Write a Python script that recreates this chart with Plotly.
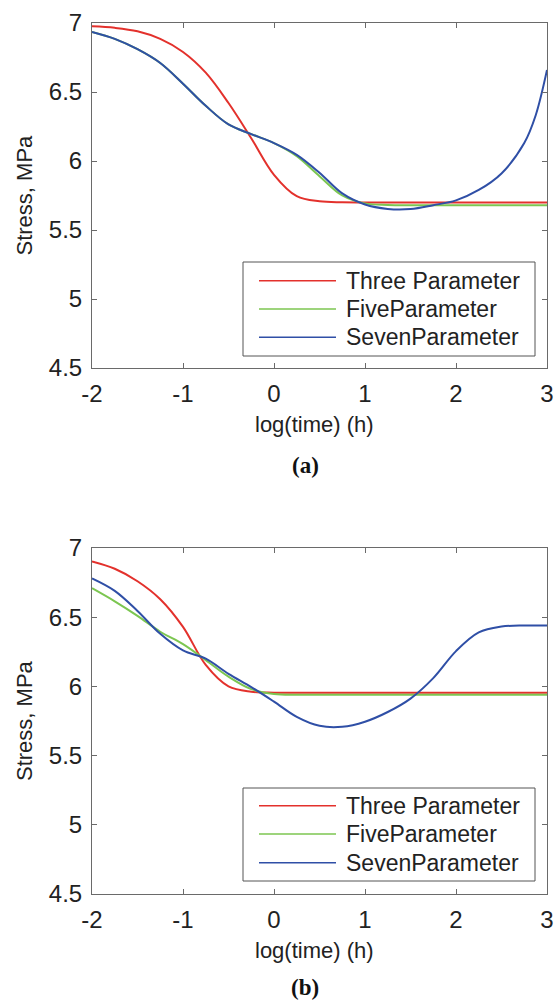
import plotly.graph_objects as go

W, H = 556, 1003

# ---------------- data: panel (a) ----------------
a_three_x = [-2.0, -1.75, -1.5, -1.25, -1.0, -0.75, -0.5, -0.25, 0.0, 0.25, 0.5, 0.75, 1.0, 1.5, 2.0, 2.5, 3.0]
a_three_y = [6.976, 6.965, 6.94, 6.885, 6.79, 6.64, 6.42, 6.165, 5.90, 5.745, 5.708, 5.701, 5.70, 5.70, 5.70, 5.70, 5.70]

a_five_x = [-2.0, -1.75, -1.5, -1.25, -1.0, -0.75, -0.5, -0.25, 0.0, 0.25, 0.5, 0.75, 1.0, 1.25, 1.5, 2.0, 2.5, 3.0]
a_five_y = [6.935, 6.885, 6.81, 6.71, 6.56, 6.40, 6.265, 6.195, 6.13, 6.035, 5.89, 5.75, 5.693, 5.682, 5.68, 5.68, 5.68, 5.68]

a_seven_x = [-2.0, -1.75, -1.5, -1.25, -1.0, -0.75, -0.5, -0.25, 0.0, 0.25, 0.5, 0.75, 1.0, 1.25, 1.5,
             1.75, 2.0, 2.25, 2.5, 2.75, 2.875, 3.0]
a_seven_y = [6.935, 6.885, 6.81, 6.71, 6.56, 6.40, 6.265, 6.195, 6.13, 6.045, 5.915, 5.765, 5.685, 5.653, 5.652,
             5.68, 5.715, 5.79, 5.91, 6.13, 6.33, 6.66]

# ---------------- data: panel (b) ----------------
b_three_x = [-2.0, -1.75, -1.5, -1.25, -1.0, -0.75, -0.5, -0.25, 0.0, 0.5, 1.0, 2.0, 3.0]
b_three_y = [6.903, 6.85, 6.76, 6.63, 6.43, 6.155, 6.0, 5.962, 5.955, 5.955, 5.955, 5.955, 5.955]

b_five_x = [-2.0, -1.75, -1.5, -1.25, -1.0, -0.75, -0.5, -0.25, 0.0, 0.25, 0.5, 1.0, 2.0, 3.0]
b_five_y = [6.71, 6.615, 6.51, 6.395, 6.305, 6.19, 6.07, 5.98, 5.945, 5.94, 5.94, 5.94, 5.94, 5.94]

b_seven_x = [-2.0, -1.75, -1.5, -1.25, -1.0, -0.75, -0.5, -0.25, 0.0, 0.25, 0.5, 0.75, 1.0, 1.25,
             1.5, 1.75, 2.0, 2.25, 2.5, 2.75, 3.0]
b_seven_y = [6.78, 6.69, 6.545, 6.38, 6.26, 6.20, 6.09, 5.995, 5.89, 5.78, 5.715, 5.708, 5.745, 5.815,
             5.912, 6.06, 6.255, 6.39, 6.432, 6.44, 6.44]

series_names = ["Three Parameter", "FiveParameter", "SevenParameter"]
series_colors = ["#e3312c", "#7cc651", "#2f4fa6"]

x_tick_vals = [-2, -1, 0, 1, 2, 3]
x_tick_text = ["-2", "-1", "0", "1", "2", "3"]
y_tick_vals = [4.5, 5, 5.5, 6, 6.5, 7]
y_tick_text = ["4.5", "5", "5.5", "6", "6.5", "7"]

x_title = "log(time) (h)"
y_title = "Stress, MPa"
panel_labels = ["(a)", "(b)"]

# ---------------- figure ----------------
def px(x):
    return x / W

def py(y):
    return 1 - y / H

fig = go.Figure()

panels = [
    ("x", "y", [(a_three_x, a_three_y), (a_five_x, a_five_y), (a_seven_x, a_seven_y)]),
    ("x2", "y2", [(b_three_x, b_three_y), (b_five_x, b_five_y), (b_seven_x, b_seven_y)]),
]
for xa, ya, data in panels:
    for (xs, ys), name, col in zip(data, series_names, series_colors):
        fig.add_trace(go.Scatter(x=xs, y=ys, mode="lines", name=name, xaxis=xa, yaxis=ya,
                                 line=dict(color=col, width=2, shape="spline", smoothing=1.0),
                                 showlegend=False, cliponaxis=True))

FONT = "Liberation Sans, Arial, sans-serif"
axcol = "#6a6a6a"

def xax(anchor):
    return dict(range=[-2, 3], domain=[px(92), px(547)], showgrid=False, zeroline=False,
                showline=True, linecolor=axcol, linewidth=1, mirror="ticks",
                ticks="inside", ticklen=5, tickcolor=axcol, tickwidth=1,
                tickvals=x_tick_vals, ticktext=x_tick_text, ticklabelstandoff=4,
                tickfont=dict(family=FONT, size=24, color="#222222"), anchor=anchor,
                automargin=False)

def yax(dom, anchor):
    return dict(range=[4.5, 7], domain=dom, showgrid=False, zeroline=False,
                showline=True, linecolor=axcol, linewidth=1, mirror="ticks",
                ticks="inside", ticklen=5, tickcolor=axcol, tickwidth=1,
                tickvals=y_tick_vals, ticktext=y_tick_text, ticklabelstandoff=4,
                tickfont=dict(family=FONT, size=24, color="#222222"), anchor=anchor,
                automargin=False)

top = (23, 368)
bot = (548, 894)

fig.update_layout(
    width=W, height=H, margin=dict(l=0, r=0, t=0, b=0, autoexpand=False),
    paper_bgcolor="white", plot_bgcolor="white", showlegend=False,
    xaxis=xax("y"), yaxis=yax([py(top[1]), py(top[0])], "x"),
    xaxis2=xax("y2"), yaxis2=yax([py(bot[1]), py(bot[0])], "x2"),
)

annotations = []
shapes = []
for (t0, t1), lab, leg_top, leg_bot, rows, lab_y in [
    (top, panel_labels[0], 262, 356, [280.7, 309, 337.3], 465),
    (bot, panel_labels[1], 788, 881, [805.7, 834, 862.7], 987),
]:
    annotations.append(dict(text=x_title, x=px(314), y=py(t1 + 56), xref="paper", yref="paper",
                            showarrow=False, xanchor="center", yanchor="middle",
                            font=dict(family=FONT, size=22, color="#222222")))
    annotations.append(dict(text=y_title, x=px(24), y=py((t0 + t1) / 2), xref="paper", yref="paper",
                            showarrow=False, textangle=-90, xanchor="center", yanchor="middle",
                            font=dict(family=FONT, size=22, color="#222222")))
    annotations.append(dict(text="<b>" + lab + "</b>", x=px(305), y=py(lab_y), xref="paper", yref="paper",
                            showarrow=False, xanchor="center", yanchor="middle",
                            font=dict(family="Liberation Serif, Times New Roman, serif", size=23, color="#111111")))
    shapes.append(dict(type="rect", xref="paper", yref="paper", x0=px(243), x1=px(535),
                       y0=py(leg_bot), y1=py(leg_top), line=dict(color="#555555", width=1),
                       fillcolor="white", layer="above"))
    for ry, name, col in zip(rows, series_names, series_colors):
        shapes.append(dict(type="line", xref="paper", yref="paper", x0=px(259), x1=px(336),
                           y0=py(ry), y1=py(ry), line=dict(color=col, width=1.5), layer="above"))
        annotations.append(dict(text=name, x=px(344), y=py(ry), xref="paper", yref="paper",
                                showarrow=False, xanchor="left", yanchor="middle",
                                font=dict(family=FONT, size=23, color="#222222")))

fig.update_layout(annotations=annotations, shapes=shapes)
fig.write_html("out.html")
